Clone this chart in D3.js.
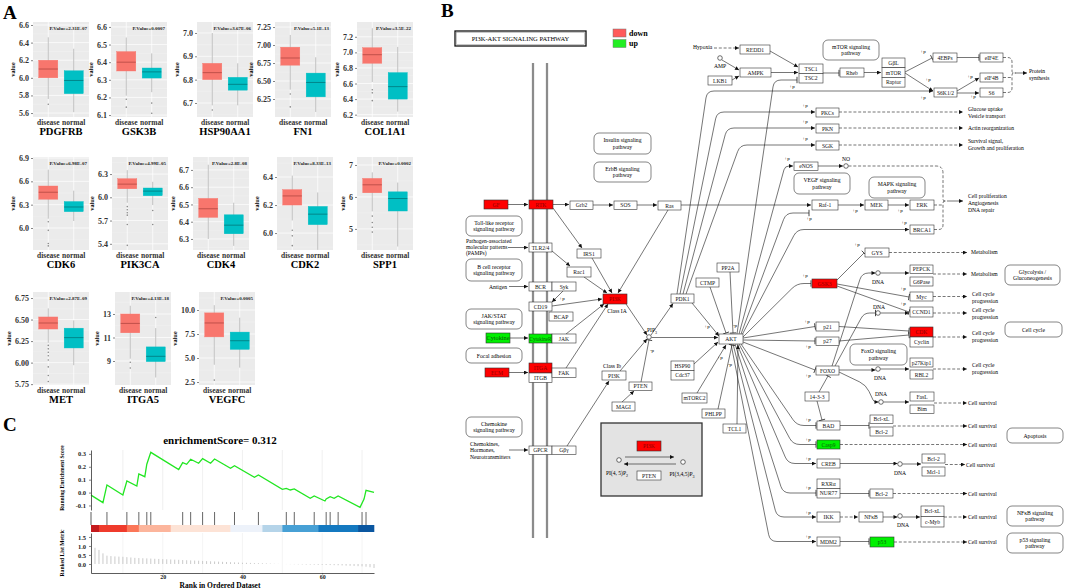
<!DOCTYPE html>
<html><head><meta charset="utf-8">
<script src="https://cdn.jsdelivr.net/npm/d3@7"></script>
<style>
body{margin:0;background:#fff}
svg{display:block}
text{font-family:"Liberation Serif","Times New Roman",serif}
</style></head>
<body><svg id="c" width="1065" height="588" font-family="Liberation Serif"></svg>
<script>
// ================= DATA =================
// Panel A: boxplots
const genes = ["PDGFRB","GSK3B","HSP90AA1","FN1","COL1A1","CDK6","PIK3CA","CDK4","CDK2","SPP1","MET","ITGA5","VEGFC"];
const groups = ["disease","normal"];
const pValueLabels = ["P.Value=2.31E-07","P.Value=0.0007","P.Value=3.67E-06","P.Value=5.1E-13","P.Value=3.5E-22",
  "P.Value=6.98E-07","P.Value=4.99E-05","P.Value=2.8E-08","P.Value=8.33E-13","P.Value=0.0002",
  "P.Value=2.87E-09","P.Value=4.13E-18","P.Value=0.0005"];
// [lower whisker, q1, median, q3, upper whisker]
const diseaseStats = [[5.76,6.0,6.1,6.2,6.46],[6.21,6.35,6.40,6.46,6.54],[6.69,6.80,6.83,6.87,7.0],[6.38,6.72,6.82,6.97,7.14],[6.62,6.86,6.97,7.06,7.31],
  [6.12,6.37,6.46,6.54,6.75],[5.93,6.11,6.17,6.24,6.35],[6.30,6.425,6.475,6.535,6.73],[6.09,6.2,6.265,6.31,6.41],[5.55,6.13,6.38,6.58,6.77],
  [6.23,6.39,6.46,6.53,6.63],[9.2,11.4,12.2,13.0,13.7],[4.3,7.2,8.65,9.7,10.5]];
const normalStats = [[5.61,5.82,5.97,6.08,6.33],[6.23,6.31,6.345,6.367,6.45],[6.69,6.755,6.78,6.81,6.87],[6.07,6.28,6.48,6.61,6.83],[6.24,6.4,6.56,6.74,7.07],
  [6.09,6.21,6.27,6.34,6.48],[5.9,6.02,6.08,6.12,6.2],[6.26,6.33,6.38,6.44,6.51],[5.88,6.06,6.135,6.19,6.29],[4.45,5.56,5.95,6.16,6.45],
  [5.97,6.17,6.29,6.4,6.49],[7.6,8.95,9.4,10.2,11.8],[4.0,5.9,6.8,7.7,9.2]];
const diseaseOutliers = [[5.70],[6.19,6.145],[6.67],[6.32,6.14],[6.52,6.48,6.38],
  [6.08,5.97,5.8,5.77],[5.88,5.84,5.8,5.77,5.65,5.38],[],[6.02,5.98,5.91],[5.4,5.2,5.05,4.9],
  [6.2,6.16,6.12,6.08,6.03,5.95,5.85,5.78],[8.9,8.4],[2.7]];
const normalOutliers = [[],[6.168,6.11],[],[],[],[],[5.83,5.65],[],[],[],[],[12.7],[]];
const yTickValues = [[5.6,5.8,6.0,6.2,6.4,6.6],[6.1,6.2,6.3,6.4,6.5,6.6],[6.7,6.8,6.9,7.0],[6.25,6.5,6.75,7.0,7.25],[6.2,6.4,6.6,6.8,7.0,7.2],
  [6.0,6.3,6.6,6.9],[5.4,5.7,6.0,6.3],[6.3,6.4,6.5,6.6,6.7],[6.0,6.2,6.4],[5,6,7],
  [5.75,6.0,6.25,6.5,6.75],[9,11,13],[2.5,5.0,7.5,10.0]];
const yTickLabels = [["5.6","5.8","6.0","6.2","6.4","6.6"],["6.1","6.2","6.3","6.4","6.5","6.6"],["6.7","6.8","6.9","7.0"],["6.25","6.50","6.75","7.00","7.25"],["6.2","6.4","6.6","6.8","7.0","7.2"],
  ["6.0","6.3","6.6","6.9"],["5.4","5.7","6.0","6.3"],["6.3","6.4","6.5","6.6","6.7"],["6.0","6.2","6.4"],["5","6","7"],
  ["5.75","6.00","6.25","6.50","6.75"],["9","11","13"],["2.5","5.0","7.5","10.0"]];
const yDomains = [[5.555,6.634],[6.089,6.628],[6.64,7.047],[6.0,7.32],[6.17,7.39],
  [5.717,6.913],[5.32,6.52],[6.236,6.775],[5.879,6.543],[4.34,7.25],
  [5.74,6.82],[6.96,14.87],[2.19,11.875]];

// Panel C: GSEA
const esTitle = "enrichmentScore= 0.312";
const esRanks  = [2,5,6,10,11,13.5,14,15.5,16,17,24,25,26,27,29,30,32,33,37,38,43,44,50,51,52,53,57,58,60.7,61,62,63,64,69.5,70.5,71,73];
const esValues = [-0.02,-0.078,0.059,-0.019,0.09,0.051,0.144,0.123,0.22,0.312,0.178,0.232,0.219,0.258,0.227,0.263,0.227,0.26,0.188,0.208,0.118,0.136,0.025,0.033,0.02,0.028,-0.044,-0.026,-0.065,-0.05,-0.032,-0.044,-0.026,-0.114,-0.05,0.018,0.002];
const hitRanks = [6,11,14,16,17,25,27,30,33,38,44,51,53,58,61,62,64,70,71];
const metricRanks = d3.range(3,74);
const metricValues = [0.9,0.78,0.59,0.46,0.44,0.42,0.41,0.40,0.38,0.36,0.34,0.33,0.32,0.31,0.30,0.29,0.28,0.27,0.26,0.25,0.24,0.23,0.22,0.21,0.20,0.19,0.18,0.17,0.16,0.15,0.14,0.13,0.12,0.11,0.10,0.09,0.08,0.07,0.065,0.06,0.05,0.045,0.04,0.03,0.02,0.01,0.005,0.0,-0.005,-0.01,-0.015,-0.02,-0.025,-0.03,-0.035,-0.04,-0.045,-0.05,-0.055,-0.06,-0.065,-0.07,-0.08,-0.09,-0.1,-0.11,-0.12,-0.13,-0.15,-0.18,-0.22];
const colorBreaks = [2,4,11,14,22,37,45,50,59,69,73];
const colorBarColors = ["#C41A1D","#EF3B2C","#FB7658","#FCB59C","#FDE3D6","#EDF2FA","#B5D4E9","#47A0D5","#1479C0","#0A56A0"];
const esTicks = [0.3,0.2,0.1,0.0,-0.1];
const esTickLabels = ["0.3","0.2","0.1","0.0","-0.1"];
const metricTicks = [1.5,1.0,0.5,0.0];
const metricTickLabels = ["1.5","1.0","0.5","0.0"];
const rankTicks = [20,40,60];

// Panel B: pathway diagram (label, layout box, state: g=plain, d=down, u=up)
const pathwayNodes = [
 ["REDD1",740,45,30,9,"g"],["AMPK",740,68,31,9,"g"],["LKB1",708,76,24,9,"g"],
 ["TSC1",799,64,24,9.5,"g"],["TSC2",799,73.5,24,9.5,"g"],["Rheb",840,68,24,9,"g"],
 ["GβL",882,58,23,9.7,"g"],["mTOR",882,67.7,23,9.7,"g"],["Raptor",882,77.4,23,9.7,"g"],
 ["4EBPs",933,53,24,9,"g"],["eIF4E",980,53,23,9,"g"],["eIF4B",980,73,23,9,"g"],
 ["S6K1/2",934,88,23,9,"g"],["S6",980,88,23,9,"g"],
 ["PKCs",816,108,23,9,"g"],["PKN",816,124,23,9,"g"],["SGK",816,141,23,9,"g"],["eNOS",794,162,24,8.5,"g"],
 ["Raf-1",812,200,26,10,"g"],["MEK",865,200,23,10,"g"],["ERK",910,200,24,10,"g"],
 ["BRCA1",910,225,24,9,"g"],["GYS",865,248,24,9,"g"],["GSK3",812,279,25,9,"d"],
 ["PEPCK",910,265,23,8.5,"g"],["G6Pase",910,277,23,9,"g"],["Myc",910,292,23,9,"g"],["CCND1",910,307,23,10,"g"],
 ["p21",816,322,23,9,"g"],["p27",816,337,23,8.5,"g"],["CDK",910,327,23,10,"d"],["Cyclin",910,337,23,10,"g"],
 ["FOXO",816,366,23,9,"g"],["p27Kip1",910,358,23,9,"g"],["RBL2",910,370,23,9,"g"],
 ["14-3-3",805,392,24,9,"g"],["FasL",910,392,24,9,"g"],["Bim",910,405,24,8.5,"g"],
 ["BAD",817,421,23,9,"g"],["Bcl-xL",870,415,23,8.5,"g"],["Bcl-2",870,427,23,9,"g"],
 ["Casp9",817,440,23,9,"u"],["CREB",817,459,23,9,"g"],["Bcl-2",922,454,23,9,"g"],["Mcl-1",922,467,23,9,"g"],
 ["RXRα",817,479,23,9.5,"g"],["NUR77",817,488.5,23,9.5,"g"],["Bcl-2",870,489,23,9,"g"],
 ["IKK",817,512,23,10,"g"],["NFκB",859,512,24,10,"g"],["Bcl-xL",921,506,23,10.5,"g"],["c-Myb",921,516.5,23,10.5,"g"],
 ["MDM2",817,537,23,9,"g"],["p53",870,537,24,10,"u"],
 ["GF",484,200,24,9,"d"],["RTK",529,200,24,9,"d"],["Grb2",570,201,23,8.5,"g"],["SOS",614,201,23,8.5,"g"],["Ras",658,201,23,9,"g"],
 ["TLR2/4",529,243,23,9,"g"],["IRS1",577,249,24,9,"g"],["Rac1",567,267,24,10,"g"],
 ["BCR",529,282,23,9,"g"],["Syk",552,282,24,9,"g"],["CD19",529,302,23,9,"g"],["BCAP",549,312,24,9,"g"],
 ["PI3K",603,294,24,10,"d"],
 ["Cytokine",486,333,24,10,"u"],["CytokineR",529,334,23,9,"u"],["JAK",552,334,24,9,"g"],
 ["ECM",485,368,24,9,"d"],["ITGA",529,363,23,10,"d"],["ITGB",529,373,23,9.5,"g"],["FAK",552,368,24,9.5,"g"],
 ["PDK1",671,294,23,9,"g"],["CTMP",696,278,23,9,"g"],["PP2A",717,263,22,9,"g"],["AKT",719,334,24,10,"g"],
 ["HSP90",671,361,23,9.5,"g"],["Cdc37",671,370.5,23,9.5,"g"],
 ["PI3K",602,371,24,9,"g"],["PTEN",629,382,23,8.5,"g"],["MAGI",612,402,23,9,"g"],
 ["mTORC2",682,393,25,10,"g"],["PHLPP",702,409,23,9,"g"],["TCL1",723,424,23,9,"g"],
 ["GPCR",529,446,23,8.5,"g"],["Gβγ",552,446,24,8.5,"g"],
 ["PI3K",637,441,24,10,"d"],["PTEN",637,471,24,9,"g"]
];
const mapBoxes = [
 [["mTOR signaling","pathway"],823,40,56,20],[["Insulin signaling","pathway"],594,133,57,21],
 [["ErbB signaling","pathway"],594,162,57,20],[["VEGF signaling","pathway"],794,173,56,21],
 [["MAPK signaling","pathway"],869,177,56,21],[["Toll-like receptor","signaling pathway"],466,216,56,20],
 [["B cell receptor","signaling pathway"],466,259,56,22],[["JAK/STAT","signaling pathway"],466,309,56,20],
 [["Focal adhesion"],466,348,56,15],[["Chemokine","signaling pathway"],466,417,56,20],
 [["Glycolysis /","Gluconeogenesis"],1005,265,55,20],[["Cell cycle"],1005,322,57,15],
 [["FoxO signaling","pathway"],850,344,57,21],[["Apoptosis"],1007,428,56,15],
 [["NFκB signaling","pathway"],1007,506,56,20],[["p53 signaling","pathway"],1007,533,56,20]
];
const plainLabels = [
 ["Hypoxia",693,49,"start"],["AMP",720,68,"middle"],["Protein",1029,73,"start"],["synthesis",1029,80,"start"],
 ["Glucose uptake",968,111,"start"],["Vesicle transport",968,118,"start"],["Actin reorganization",968,130,"start"],
 ["Survival signal,",968,143,"start"],["Growth and proliferation",968,150,"start"],["NO",846,161,"middle"],
 ["Cell proliferation",968,198,"start"],["Angiogenesis",968,205,"start"],["DNA repair",968,212,"start"],
 ["Metabolism",971,254,"start"],["Metabolism",971,276,"start"],
 ["Cell cycle",972,296,"start"],["progression",972,302.5,"start"],["Cell cycle",972,312,"start"],["progression",972,318.5,"start"],
 ["Cell cycle",972,335,"start"],["progression",972,341.5,"start"],["Cell cycle",972,367,"start"],["progression",972,373.5,"start"],
 ["Cell survival",968,405,"start"],["Cell survival",968,428,"start"],["Cell survival",968,447,"start"],["Cell survival",966,467,"start"],
 ["Cell survival",968,496,"start"],["Cell survival",968,519,"start"],["Cell survival",968,544,"start"],
 ["DNA",878,284,"middle"],["DNA",879,309,"middle"],["DNA",880,380,"middle"],["DNA",881,396,"middle"],["DNA",900,475,"middle"],["DNA",903,527,"middle"],
 ["Pathogen-associated",466,243,"start"],["molecular patterns",466,249,"start"],["(PAMPs)",466,255,"start"],
 ["Antigen",507,289,"end"],["Class IA",617,313,"middle"],["Class Ib",612,368,"middle"],
 ["Chemokines,",470,446,"start"],["Hormones,",470,452,"start"],["Neurotransmitters",470,458.5,"start"]
];
const subLabels = [["PIP","3",652,332],["PI(4, 5)P","2",617,475],["PI(3,4,5)P","3",682,476]];
const phosLabels = [
 ["+p",923,53],["+p",928,81],["+p",923,99],["+p",970,78],["+p",973,98],["+p",792,88],["+p",805,107],["+p",805,123],["+p",805,140],
 ["+p",787,160],["+p",809,220],["+p",855,212],["+p",900,212],["+p",904,224],["+p",857,246],["+p",805,277],["+p",903,290],["+p",903,305],
 ["+p",807,323],["+p",808,348],["+p",808,377],["+p",808,421],["+p",808,441],["+p",808,460],["+p",808,489],["+p",808,514],["+p",808,538],
 ["+p",562,300],["+p",707,328],["+p",720,359],["-p",735,327],["-p",652,352],["-p",730,366]
];
const circles = [[720,58],[846,166],[649,337],[878,273],[878,313],[878,369],[881,402],[900,464],[900,516],[619,460],[683,462]];

// ================= DRAW =================
const svg = d3.select("#c");
const defs = svg.append("defs");
defs.append("marker").attr("id","arr").attr("viewBox","0 0 10 10").attr("refX",10).attr("refY",5)
  .attr("markerWidth",4.5).attr("markerHeight",4).attr("markerUnits","userSpaceOnUse").attr("orient","auto")
  .append("path").attr("d","M0,0L10,5L0,10z").attr("fill","#111");

// panel letters
[["A",3,19],["B",441,17],["C",3,431]].forEach(([t,x,y])=>svg.append("text").attr("x",x).attr("y",y).text(t)
  .attr("font-size",19).attr("font-weight","bold"));

// ---------- Panel A ----------
const aLefts = [33,111,197,275,357, 33,112,193,277,357, 33,115,199];
const aTop = [22,157,292], aBottom = [117,250,385];
const aW = 56;
genes.forEach((gene,i)=>{
  const row = Math.floor(i/5);
  const x0 = aLefts[i], y0 = aTop[row], y1 = aBottom[row];
  const g = svg.append("g");
  g.append("rect").attr("x",x0).attr("y",y0).attr("width",aW).attr("height",y1-y0).attr("fill","#EBEBEB");
  const y = d3.scaleLinear().domain(yDomains[i]).range([y1,y0]);
  const x = d3.scalePoint().domain(groups).range([x0,x0+aW]).padding(0.6);
  const step = x.step();
  const tv = yTickValues[i];
  const minor = [];
  for(let k=0;k<tv.length-1;k++) minor.push((tv[k]+tv[k+1])/2);
  minor.push(tv[0]-(tv[1]-tv[0])/2, tv[tv.length-1]+(tv[1]-tv[0])/2);
  minor.filter(v=>v>yDomains[i][0]&&v<yDomains[i][1]).forEach(v=>g.append("line").attr("x1",x0).attr("x2",x0+aW)
    .attr("y1",y(v)).attr("y2",y(v)).attr("stroke","#F5F5F5").attr("stroke-width",0.4));
  tv.forEach(v=>g.append("line").attr("x1",x0).attr("x2",x0+aW).attr("y1",y(v)).attr("y2",y(v)).attr("stroke","#fff").attr("stroke-width",0.7));
  groups.forEach(gr=>g.append("line").attr("x1",x(gr)).attr("x2",x(gr)).attr("y1",y0).attr("y2",y1).attr("stroke","#fff").attr("stroke-width",0.7));
  const fills = ["#F8766D","#00BFC4"], meds = ["#C0504A","#00868A"];
  [diseaseStats[i],normalStats[i]].forEach((s,k)=>{
    const cx = x(groups[k]), bw = step*0.75;
    g.append("line").attr("x1",cx).attr("x2",cx).attr("y1",y(s[0])).attr("y2",y(s[4])).attr("stroke","#A8A8A8").attr("stroke-width",0.7);
    g.append("rect").attr("x",cx-bw/2).attr("width",bw).attr("y",y(s[3])).attr("height",y(s[1])-y(s[3]))
      .attr("fill",fills[k]).attr("stroke",fills[k]).attr("stroke-width",0.4);
    g.append("line").attr("x1",cx-bw/2).attr("x2",cx+bw/2).attr("y1",y(s[2])).attr("y2",y(s[2])).attr("stroke",meds[k]).attr("stroke-width",1);
    const outs = k===0?diseaseOutliers[i]:normalOutliers[i];
    outs.forEach(o=>g.append("circle").attr("cx",cx).attr("cy",y(o)).attr("r",0.8).attr("fill","#8a8a8a"));
  });
  const ax = g.append("g").attr("transform",`translate(${x0},0)`)
    .call(d3.axisLeft(y).tickValues(tv).tickFormat((d,k)=>yTickLabels[i][k]).tickSize(2).tickPadding(2));
  ax.select(".domain").remove();
  ax.selectAll(".tick line").attr("stroke","#333").attr("stroke-width",0.6);
  ax.selectAll(".tick text").attr("font-family",'"Liberation Serif",serif').attr("font-size",8).attr("font-weight","bold").attr("fill","#333");
  let maxW = 0; ax.selectAll(".tick text").each(function(){maxW=Math.max(maxW,this.getComputedTextLength());});
  const vx = x0 - 4 - maxW - 4;
  g.append("text").attr("transform",`translate(${vx},${(y0+y1)/2}) rotate(-90)`).attr("text-anchor","middle")
    .attr("font-size",6.3).attr("font-weight","bold").text("value");
  groups.forEach(gr=>g.append("text").attr("x",x(gr)).attr("y",y1+7.5).attr("text-anchor","middle")
    .attr("font-size",7.5).attr("font-weight","bold").attr("fill","#333").text(gr));
  g.append("text").attr("x",x0+aW/2).attr("y",y1+18).attr("text-anchor","middle").attr("font-size",10.5).attr("font-weight","bold").text(gene);
  g.append("text").attr("x",x0+aW-2).attr("y",y0+8).attr("text-anchor","end").attr("font-size",5).attr("font-weight","bold").attr("fill","#222").text(pValueLabels[i]);
});

// ---------- Panel C ----------
const cx = d3.scaleLinear().domain([2,73]).range([91,374]);
const cyES = d3.scaleLinear().domain([-0.135,0.33]).range([510,450]);
const cyM = d3.scaleLinear().domain([-0.5,1.72]).range([573,533]);
const gC = svg.append("g");
gC.append("text").attr("x",220).attr("y",444).attr("text-anchor","middle").attr("font-size",11).attr("font-weight","bold").text(esTitle);
d3.range(10,71,10).forEach(r=>{
  gC.append("line").attr("x1",cx(r)).attr("x2",cx(r)).attr("y1",450).attr("y2",510).attr("stroke","#E6E6E6").attr("stroke-width",0.6);
  gC.append("line").attr("x1",cx(r)).attr("x2",cx(r)).attr("y1",533).attr("y2",573).attr("stroke","#EEEEEE").attr("stroke-width",0.6);
});
gC.append("path").datum(esRanks.map((r,k)=>[r,esValues[k]]))
  .attr("d",d3.line().x(d=>cx(d[0])).y(d=>cyES(d[1]))).attr("fill","none").attr("stroke","#22E622").attr("stroke-width",1.3);
hitRanks.forEach(r=>gC.append("line").attr("x1",cx(r)).attr("x2",cx(r)).attr("y1",512).attr("y2",525).attr("stroke","#555").attr("stroke-width",0.9));
colorBarColors.forEach((c,k)=>gC.append("rect").attr("x",cx(colorBreaks[k])).attr("width",cx(colorBreaks[k+1])-cx(colorBreaks[k])+0.3)
  .attr("y",525).attr("height",7).attr("fill",c));
metricRanks.forEach((r,k)=>gC.append("line").attr("x1",cx(r)).attr("x2",cx(r)).attr("y1",cyM(0)).attr("y2",cyM(metricValues[k]))
  .attr("stroke","#C4C4C4").attr("stroke-width",0.9));
function styleAxis(a,fs){
  a.select(".domain").attr("stroke","#333").attr("stroke-width",0.8);
  a.selectAll(".tick line").attr("stroke","#333").attr("stroke-width",0.6);
  a.selectAll(".tick text").attr("font-family",'"Liberation Serif",serif').attr("font-size",fs||6.5).attr("font-weight","bold").attr("fill","#222");
}
styleAxis(gC.append("g").attr("transform","translate(91,0)").call(d3.axisLeft(cyES).tickValues(esTicks).tickFormat((d,k)=>esTickLabels[k]).tickSize(2).tickSizeOuter(0)));
gC.append("line").attr("x1",91).attr("x2",91).attr("y1",512).attr("y2",525).attr("stroke","#333").attr("stroke-width",0.8);
styleAxis(gC.append("g").attr("transform","translate(91,0)").call(d3.axisLeft(cyM).tickValues(metricTicks).tickFormat((d,k)=>metricTickLabels[k]).tickSize(2).tickSizeOuter(0)));
styleAxis(gC.append("g").attr("transform","translate(0,573)").call(d3.axisBottom(cx).tickValues(rankTicks).tickFormat(d3.format("d")).tickSize(1.5).tickPadding(0.5).tickSizeOuter(0)),6);
gC.append("text").attr("transform","translate(64,478) rotate(-90)").attr("text-anchor","middle").attr("font-size",5.6).attr("font-weight","bold").text("Running Enrichment Score");
gC.append("text").attr("transform","translate(64,553) rotate(-90)").attr("text-anchor","middle").attr("font-size",5.6).attr("font-weight","bold").text("Ranked List Metric");
gC.append("text").attr("x",220).attr("y",587.5).attr("text-anchor","middle").attr("font-size",7.5).attr("font-weight","bold").text("Rank in Ordered Dataset");

// ---------- Panel B ----------
const gB = svg.append("g");
const FS = 5.6;
gB.append("rect").attr("x",455).attr("y",31).attr("width",131).attr("height",15).attr("fill","#fff").attr("stroke","#111").attr("stroke-width",1.3);
gB.append("rect").attr("x",456.5).attr("y",32.5).attr("width",128).attr("height",12).attr("fill","none").attr("stroke","#777").attr("stroke-width",0.4);
gB.append("text").attr("x",520.5).attr("y",41).attr("text-anchor","middle").attr("font-size",6.5).text("PI3K-AKT  SIGNALING  PATHWAY");
[["#FF5A5A","down",29],["#22EE22","up",39.5]].forEach(([c,t,yy])=>{
  gB.append("rect").attr("x",613).attr("y",yy).attr("width",13).attr("height",8).attr("fill",c).attr("stroke","#777").attr("stroke-width",0.5);
  gB.append("text").attr("x",629).attr("y",yy+6.5).attr("font-size",8).attr("font-weight","bold").text(t);
});
[533,547].forEach(mx=>{
  gB.append("line").attr("x1",mx).attr("x2",mx).attr("y1",63).attr("y2",538).attr("stroke","#6b6b6b").attr("stroke-width",2.2);
  gB.append("line").attr("x1",mx).attr("x2",mx).attr("y1",63).attr("y2",538).attr("stroke","#d8d8d8").attr("stroke-width",0.6);
});
gB.append("rect").attr("x",601).attr("y",423).attr("width",101).attr("height",73).attr("fill","#E3E3E3").attr("stroke","#333").attr("stroke-width",1.3);

function roundedPath(pts,r){
  let d=`M${pts[0][0]},${pts[0][1]}`;
  for(let k=1;k<pts.length-1;k++){
    const p0=pts[k-1],p1=pts[k],p2=pts[k+1];
    const d1=Math.hypot(p1[0]-p0[0],p1[1]-p0[1]), d2=Math.hypot(p2[0]-p1[0],p2[1]-p1[1]);
    const rr=Math.min(r,d1/2,d2/2);
    const a=[p1[0]-(p1[0]-p0[0])*rr/d1,p1[1]-(p1[1]-p0[1])*rr/d1];
    const b=[p1[0]+(p2[0]-p1[0])*rr/d2,p1[1]+(p2[1]-p1[1])*rr/d2];
    d+=`L${a[0]},${a[1]}Q${p1[0]},${p1[1]} ${b[0]},${b[1]}`;
  }
  const e=pts[pts.length-1]; return d+`L${e[0]},${e[1]}`;
}
function edge(pts,type,dashed,r){
  const p=gB.append("path").attr("d",roundedPath(pts,r||7)).attr("fill","none").attr("stroke","#1a1a1a").attr("stroke-width",0.6);
  if(dashed) p.attr("stroke-dasharray","3,1.8");
  if(type==="a") p.attr("marker-end","url(#arr)");
  if(type==="i"){
    const a=pts[pts.length-2],b=pts[pts.length-1];
    const dx=b[0]-a[0],dy=b[1]-a[1],L=Math.hypot(dx,dy),nx=-dy/L*3.2,ny=dx/L*3.2;
    gB.append("line").attr("x1",b[0]+nx).attr("y1",b[1]+ny).attr("x2",b[0]-nx).attr("y2",b[1]-ny).attr("stroke","#1a1a1a").attr("stroke-width",0.8);
  }
}
const edges = [
 [[[714,48],[739,48]],"a",1],[[[770,51],[798,67]],"a",0],[[[722,60],[739,70]],"a",0],[[[732,80],[739,76]],"a",0],
 [[[771,72.5],[798,72.5]],"a",0],[[[823,73],[839,73]],"i",0],[[[864,72.5],[881,72.5]],"a",0],
 [[[905,72],[932,58]],"i",0],[[[905,73],[933,91]],"a",0],[[[957,57.5],[979,57.5]],"i",0],
 [[[957,91],[979,78]],"a",0],[[[957,93],[979,93]],"a",0],
 [[[1003,57.5],[1012,57.5],[1012,73],[1016,73]],"n",1],[[[1003,92.5],[1012,92.5],[1012,73],[1016,73]],"n",1],
 [[[1003,77.5],[1012,77.5]],"n",1],[[[1016,73],[1027,73]],"a",0],
 [[[677,294],[707,91],[933,91]],"a",0],[[[680,294],[717,112],[815,112]],"a",0],
 [[[683,294],[727,128],[815,128]],"a",0],[[[686,294],[740,145],[815,145]],"a",0],
 [[[737,334],[774,80],[797,80]],"i",0],[[[739,334],[785,166],[793,166]],"a",0],
 [[[741,334],[786,213],[809,213]],"i",0],[[[742,335],[797,229.5],[909,229.5]],"a",0],
 [[[743,337],[797,283.5],[811,283.5]],"i",0],[[[743,338],[815,326.5]],"i",0],
 [[[743,340],[815,341]],"i",0],[[[743,342],[815,370]],"i",0],
 [[[741,344],[797,425.5],[816,425.5]],"i",0],[[[739,344],[793,444.5],[816,444.5]],"i",0],
 [[[737,344],[788,463.5],[816,463.5]],"a",0],[[[735,344],[783,493],[816,493]],"i",0],
 [[[733,344],[777,517],[816,517]],"a",0],[[[731,344],[770,541.5],[816,541.5]],"a",0],
 [[[681,205],[811,205]],"a",0],[[[838,205],[864,205]],"a",0],[[[888,205],[909,205]],"a",0],
 [[[839,112],[963,112]],"a",1],[[[839,128],[963,128]],"a",1],[[[839,145],[963,145]],"a",1],
 [[[818,166],[843,166]],"a",0],
 [[[848.5,166],[943,166],[943,201],[947,201]],"n",1],[[[934,229.5],[943,229.5],[943,201],[947,201]],"n",1],
 [[[934,205],[943,205]],"n",1],[[[947,201],[963,201]],"a",0],
 [[[837,280],[864,253]],"i",0],[[[889,252.5],[967,252.5]],"a",1],
 [[[837,284],[909,297]],"i",0],[[[837,286],[909,312]],"i",0],
 [[[832,366],[862,273],[875.5,273]],"a",0],[[[880.5,273],[909,273]],"a",0],[[[933,274],[967,274]],"a",1],
 [[[933,296.5],[967,296.5]],"a",1],
 [[[835,366],[864,313],[875.5,313]],"i",0],[[[880.5,313],[909,313]],"a",0],[[[933,313],[967,313]],"a",1],
 [[[839,326.5],[909,331]],"i",0],[[[839,341],[909,335]],"i",0],[[[933,337],[967,337]],"a",1],
 [[[839,370],[875.5,370]],"a",0],[[[880.5,369],[909,369]],"a",0],[[[933,369],[967,369]],"a",1],
 [[[839,372],[866,385],[874,402],[878.5,402]],"a",0],[[[883.5,402],[909,402]],"a",0],[[[934,403],[967,403]],"a",1],
 [[[819,392],[828,376]],"i",0],[[[817,401],[822,420]],"i",0],
 [[[840,425.5],[869,425.5]],"i",0],[[[893,426],[967,426]],"a",1],
 [[[840,444.5],[967,444.5]],"a",1],
 [[[840,463.5],[897.5,463.5]],"a",0],[[[902.5,464],[921,464]],"a",0],[[[945,464.5],[965,464.5]],"a",1],
 [[[840,493.5],[869,493.5]],"i",0],[[[893,493.5],[967,493.5]],"a",1],
 [[[840,517],[858,517]],"a",1],[[[883,517],[897.5,517]],"a",0],[[[902.5,517],[920,517]],"a",0],[[[944,517],[967,517]],"a",1],
 [[[840,541.5],[869,541.5]],"i",0],[[[894,542],[967,542]],"a",1],
 [[[508,204.5],[528,204.5]],"a",0],[[[553,204.5],[569,204.5]],"a",0],[[[593,205],[613,205]],"a",0],[[[637,205],[657,205]],"a",0],
 [[[553,208],[582,248]],"a",0],[[[592,258],[612,293]],"a",0],[[[668,210],[618,293]],"a",0],
 [[[508,247.5],[528,247.5]],"a",0],[[[552,251],[570,266]],"a",0],[[[584,277],[607,293]],"a",0],
 [[[509,286.5],[528,286.5]],"a",0],[[[563,291],[552,302]],"a",0],[[[552,306],[602,299]],"a",0],
 [[[566,334],[604,304]],"a",0],[[[566,368],[608,304]],"a",0],
 [[[510,338],[528,338]],"a",0],[[[509,372.5],[528,372.5]],"a",0],[[[509,450],[528,450]],"a",0],
 [[[567,446],[609,381]],"a",0],[[[620,371],[647,339]],"a",0],[[[626,304],[647,335]],"a",0],
 [[[651,335],[673,303.5]],"a",0],[[[651.5,337.5],[718,337.5]],"a",0],
 [[[641,382],[649,340]],"i",0],[[[622,402],[634,391]],"a",0],
 [[[692,303],[719,336]],"a",0],[[[710,287],[726,333]],"i",0],[[[730,272],[733,333]],"i",0],
 [[[694,364],[718,342]],"a",0],[[[697,393],[726,345]],"a",0],[[[718,409],[732,345]],"i",0],[[[737,424],[738,345]],"a",0],
 [[[625,457],[674,457]],"a",0],[[[676,464],[624,464]],"a",0]
];
edges.forEach(e=>edge(e[0],e[1],e[2]));

mapBoxes.forEach(([lines,x,y,w,h])=>{
  gB.append("rect").attr("x",x).attr("y",y).attr("width",w).attr("height",h).attr("rx",5).attr("fill","#fff").attr("stroke","#333").attr("stroke-width",0.6);
  lines.forEach((t,k)=>gB.append("text").attr("x",x+w/2).attr("y",y+h/2+2+(k-(lines.length-1)/2)*6.2)
    .attr("text-anchor","middle").attr("font-size",5.7).text(t));
});
pathwayNodes.forEach(([t,x,y,w,h,s])=>{
  const fill = s==="d"?"#FF0000":s==="u"?"#00F000":"#fff";
  gB.append("rect").attr("x",x).attr("y",y).attr("width",w).attr("height",h).attr("fill",fill).attr("stroke","#333").attr("stroke-width",0.6);
  gB.append("text").attr("x",x+w/2).attr("y",y+h/2+2).attr("text-anchor","middle").attr("font-size",FS)
    .attr("fill",s==="d"?"#8E0000":s==="u"?"#0B5A0B":"#111").attr("textLength",t.length>7?w-1:null).attr("lengthAdjust","spacingAndGlyphs").text(t);
});
circles.forEach(([x,y])=>gB.append("circle").attr("cx",x).attr("cy",y).attr("r",2.3).attr("fill","#fff").attr("stroke","#111").attr("stroke-width",0.6));
plainLabels.forEach(([t,x,y,a])=>gB.append("text").attr("x",x).attr("y",y).attr("text-anchor",a).attr("font-size",5.6).text(t));
subLabels.forEach(([t,s,x,y])=>{
  const tx=gB.append("text").attr("x",x).attr("y",y).attr("text-anchor","middle").attr("font-size",5.6);
  tx.append("tspan").text(t); tx.append("tspan").attr("dy",1.5).attr("font-size",4).text(s);
});
phosLabels.forEach(([t,x,y])=>gB.append("text").attr("x",x).attr("y",y).attr("text-anchor","middle").attr("font-size",5).text(t));
</script></body></html>
